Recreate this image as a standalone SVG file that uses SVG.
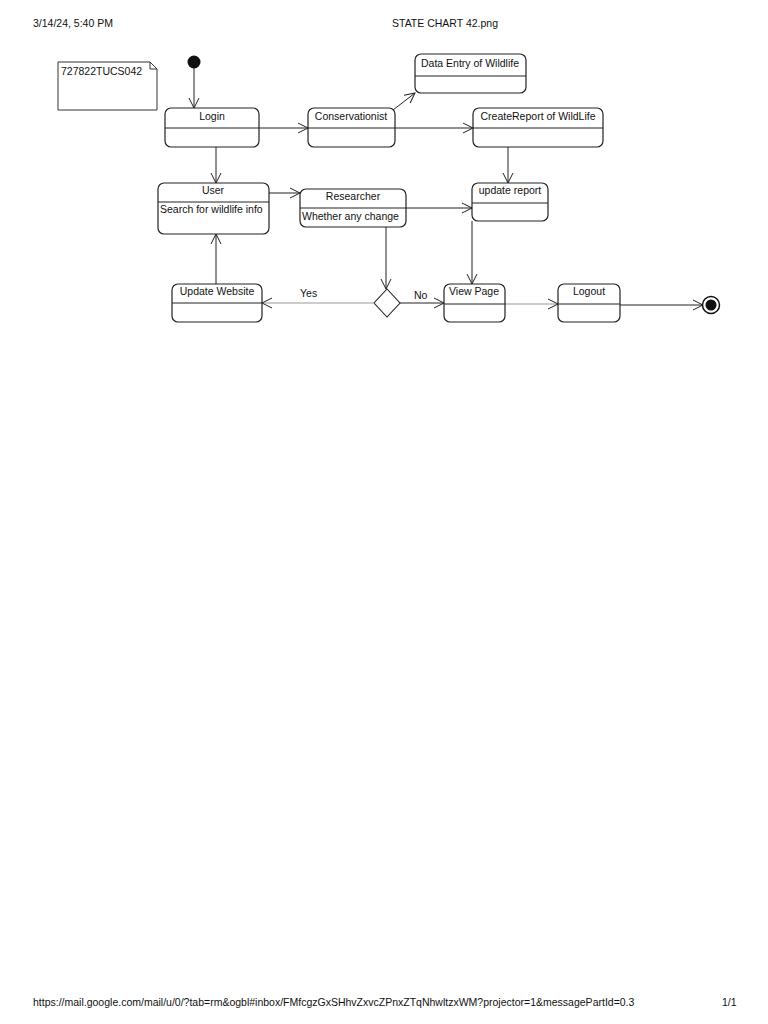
<svg xmlns="http://www.w3.org/2000/svg" width="768" height="1024" viewBox="0 0 768 1024">
<style>
text{font-family:"Liberation Sans",Arial,sans-serif;fill:#111}
.hdr{font-size:10.5px}
.lbl{font-size:10.5px}
.st{fill:#fff;stroke:#222;stroke-width:1.2}
.dv{stroke:#222;stroke-width:1}
.c{fill:none;stroke:#222;stroke-width:1;marker-end:url(#ar)}
.g{fill:none;stroke:#999;stroke-width:1;marker-end:url(#ar)}
</style>
<defs>
<marker id="ar" viewBox="0 0 12 12" refX="11" refY="6" markerWidth="12" markerHeight="12" markerUnits="userSpaceOnUse" orient="auto">
<path d="M1,1 L11,6 L1,11" fill="none" stroke="#222" stroke-width="1"/>
</marker>
</defs>
<rect width="768" height="1024" fill="#fff"/>
<text class="hdr" x="33" y="27">3/14/24, 5:40 PM</text>
<text class="hdr" x="392" y="27">STATE CHART 42.png</text>
<text class="hdr" x="33" y="1006">https://mail.google.com/mail/u/0/?tab=rm&amp;ogbl#inbox/FMfcgzGxSHhvZxvcZPnxZTqNhwltzxWM?projector=1&amp;messagePartId=0.3</text>
<text class="hdr" x="722" y="1006">1/1</text>

<g id="note">
<path d="M58,62 H150 L157,69 V110 H58 Z" fill="#fff" stroke="#333" stroke-width="1"/>
<path d="M150,62 V69 H157" fill="none" stroke="#333" stroke-width="1"/>
<text class="lbl" x="61" y="75">727822TUCS042</text>
</g>

<g id="connectors">
<line class="c" x1="194" y1="68" x2="194" y2="108"/>
<line class="c" x1="259" y1="128" x2="308" y2="128"/>
<line class="c" x1="395" y1="128" x2="473" y2="128"/>
<line class="c" x1="393" y1="110" x2="415" y2="93"/>
<line class="c" x1="508" y1="147" x2="508" y2="183"/>
<line class="c" x1="216" y1="147" x2="216" y2="183"/>
<line class="c" x1="269" y1="193" x2="300" y2="193"/>
<line class="c" x1="406" y1="208" x2="472" y2="208"/>
<line class="c" x1="472" y1="221" x2="472" y2="284"/>
<line class="c" x1="386" y1="227" x2="386" y2="289"/>
<line class="g" x1="373" y1="303" x2="262" y2="303"/>
<line class="c" x1="400" y1="303" x2="444" y2="303"/>
<line class="c" x1="216" y1="284" x2="216" y2="234"/>
<line class="g" x1="505" y1="304" x2="558" y2="304"/>
<line class="c" x1="620" y1="305" x2="703" y2="305"/>
<text class="lbl" x="300" y="297">Yes</text>
<text class="lbl" x="414" y="299">No</text>
</g>

<g id="initial"><circle cx="194" cy="62" r="6.5" fill="#111"/></g>
<g id="final">
<circle cx="711" cy="305" r="8.5" fill="#fff" stroke="#111" stroke-width="1.5"/>
<circle cx="711" cy="305" r="5.5" fill="#111"/>
</g>

<g id="login">
<rect class="st" x="165" y="108" width="94" height="39" rx="6"/>
<line class="dv" x1="165" y1="128" x2="259" y2="128"/>
<text class="lbl" x="212" y="120" text-anchor="middle">Login</text>
</g>
<g id="conservationist">
<rect class="st" x="308" y="108" width="87" height="39" rx="6"/>
<line class="dv" x1="308" y1="128" x2="395" y2="128"/>
<text class="lbl" x="351" y="120" text-anchor="middle">Conservationist</text>
</g>
<g id="dataentry">
<rect class="st" x="415" y="54" width="111" height="39" rx="6"/>
<line class="dv" x1="415" y1="76" x2="526" y2="76"/>
<text class="lbl" x="470" y="67" text-anchor="middle">Data Entry of Wildlife</text>
</g>
<g id="createreport">
<rect class="st" x="473" y="108" width="130" height="39" rx="6"/>
<line class="dv" x1="473" y1="128" x2="603" y2="128"/>
<text class="lbl" x="538" y="120" text-anchor="middle">CreateReport of WildLife</text>
</g>
<g id="updatereport">
<rect class="st" x="472" y="183" width="76" height="38" rx="6"/>
<line class="dv" x1="472" y1="203" x2="548" y2="203"/>
<text class="lbl" x="510" y="194" text-anchor="middle">update report</text>
</g>
<g id="user">
<rect class="st" x="158" y="183" width="111" height="51" rx="6"/>
<line class="dv" x1="158" y1="202" x2="269" y2="202"/>
<text class="lbl" x="213" y="194" text-anchor="middle">User</text>
<text class="lbl" x="160" y="213">Search for wildlife info</text>
</g>
<g id="researcher">
<rect class="st" x="300" y="189" width="106" height="38" rx="6"/>
<line class="dv" x1="300" y1="208" x2="406" y2="208"/>
<text class="lbl" x="353" y="200" text-anchor="middle">Researcher</text>
<text class="lbl" x="302" y="220">Whether any change</text>
</g>
<g id="decision">
<path d="M387,289 L400,303 L387,317 L374,303 Z" fill="#fff" stroke="#222" stroke-width="1.1"/>
</g>
<g id="updatewebsite">
<rect class="st" x="172" y="284" width="90" height="38" rx="6"/>
<line class="dv" x1="172" y1="303" x2="262" y2="303"/>
<text class="lbl" x="217" y="295" text-anchor="middle">Update Website</text>
</g>
<g id="viewpage">
<rect class="st" x="444" y="284" width="61" height="38" rx="6"/>
<line class="dv" x1="444" y1="304" x2="505" y2="304"/>
<text class="lbl" x="474" y="295" text-anchor="middle">View Page</text>
</g>
<g id="logout">
<rect class="st" x="558" y="284" width="62" height="38" rx="6"/>
<line class="dv" x1="558" y1="304" x2="620" y2="304"/>
<text class="lbl" x="589" y="295" text-anchor="middle">Logout</text>
</g>
</svg>
